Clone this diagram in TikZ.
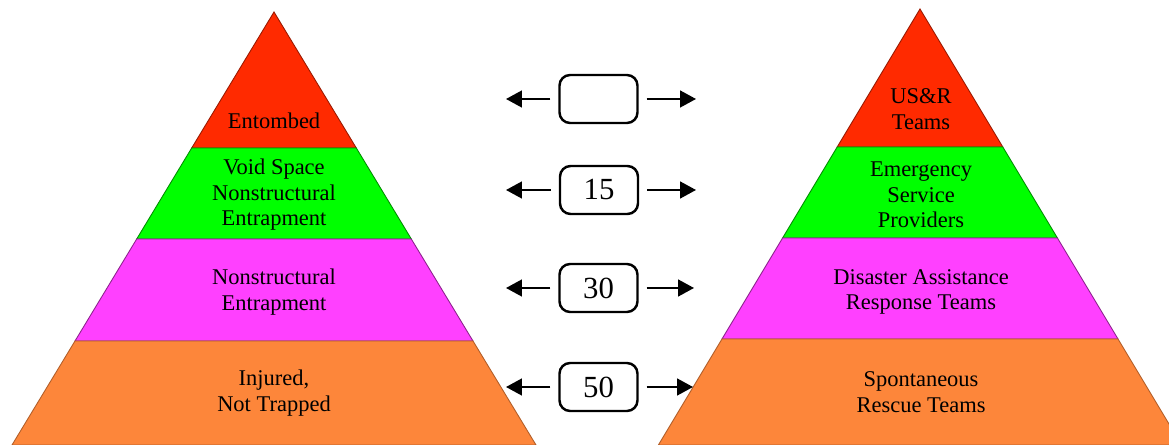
\documentclass[tikz,border=0pt]{standalone}
\usepackage{fontspec}
\setmainfont{Liberation Serif}
\usetikzlibrary{arrows.meta,positioning}

\definecolor{topred}{RGB}{255,42,0}
\definecolor{voidgreen}{RGB}{0,255,0}
\definecolor{pinklayer}{RGB}{255,64,255}
\definecolor{baseorange}{RGB}{253,134,58}

\begin{document}
\begin{tikzpicture}
[x=0.02cm, y=-0.02cm, >={Triangle[length=9pt,width=9.5pt]},
every node/.style={font=\fontsize{12.8}{14.5}\selectfont, align=center},
layer/.style={line width=0.5pt},
countbox/.style={draw, fill=white, line width=1.4pt, rounded corners=6pt,
  minimum width=1.56cm, minimum height=0.96cm, inner sep=0pt,
  font=\fontsize{17.5}{20}\selectfont},
pointer/.style={->, line width=1.1pt, shorten <=4.5pt}
]
  \useasboundingbox (0,0) rectangle (1169,445);
  \clip (0,0) rectangle (1169,445);

  % left pyramid
  \path[layer, fill=topred, draw=topred!60!black] (274,12) -- (356.3,148) -- (191.7,148) -- cycle;
  \path[layer, fill=voidgreen, draw=voidgreen!55!black] (191.7,148) -- (356.3,148) -- (411.3,239) -- (136.7,239) -- cycle;
  \path[layer, fill=pinklayer, draw=pinklayer!55!black] (136.7,239) -- (411.3,239) -- (473,341) -- (75,341) -- cycle;
  \path[layer, fill=baseorange, draw=baseorange!70!black] (75,341) -- (473,341) -- (536,445) -- (12,445) -- cycle;

  % right pyramid
  \path[layer, fill=topred, draw=topred!60!black] (920,9) -- (1002.8,147) -- (837.2,147) -- cycle;
  \path[layer, fill=voidgreen, draw=voidgreen!55!black] (837.2,147) -- (1002.8,147) -- (1057.4,238) -- (782.6,238) -- cycle;
  \path[layer, fill=pinklayer, draw=pinklayer!55!black] (782.6,238) -- (1057.4,238) -- (1118,339) -- (722,339) -- cycle;
  \path[layer, fill=baseorange, draw=baseorange!70!black] (722,339) -- (1118,339) -- (1181.6,445) -- (658.4,445) -- cycle;

  \node (entombed)  at (274,121) {Entombed};
  \node (voidspace) at (274,195) {Void Space\\Nonstructural\\Entrapment};
  \node (nonstruct) at (274,292) {Nonstructural\\Entrapment};
  \node (injured)   at (274,393) {Injured,\\Not Trapped};

  \node (usar)      at (921,109) {US\&R\\Teams};
  \node (esp)       at (921,195) {Emergency\\Service\\Providers};
  \node (dart)      at (921,292) {Disaster Assistance\\Response Teams};
  \node (srt)       at (921,392) {Spontaneous\\Rescue Teams};

  % count boxes and arrows
  \node[countbox] (c1) at (598.5,99)  {};
  \node[countbox] (c2) at (599,190)   {15};
  \node[countbox] (c3) at (598.5,288) {30};
  \node[countbox] (c4) at (598.5,387) {50};

  \coordinate (l1) at (506,99);  \coordinate (r1) at (696,99);
  \coordinate (l2) at (506,190); \coordinate (r2) at (696,190);
  \coordinate (l3) at (506,288); \coordinate (r3) at (694,288);
  \coordinate (l4) at (506,387); \coordinate (r4) at (693,387);

  \draw[pointer] (c1.west) -- (l1);
  \draw[pointer] (c1.east) -- (r1);
  \draw[pointer] (c2.west) -- (l2);
  \draw[pointer] (c2.east) -- (r2);
  \draw[pointer] (c3.west) -- (l3);
  \draw[pointer] (c3.east) -- (r3);
  \draw[pointer] (c4.west) -- (l4);
  \draw[pointer] (c4.east) -- (r4);
\end{tikzpicture}
\end{document}
